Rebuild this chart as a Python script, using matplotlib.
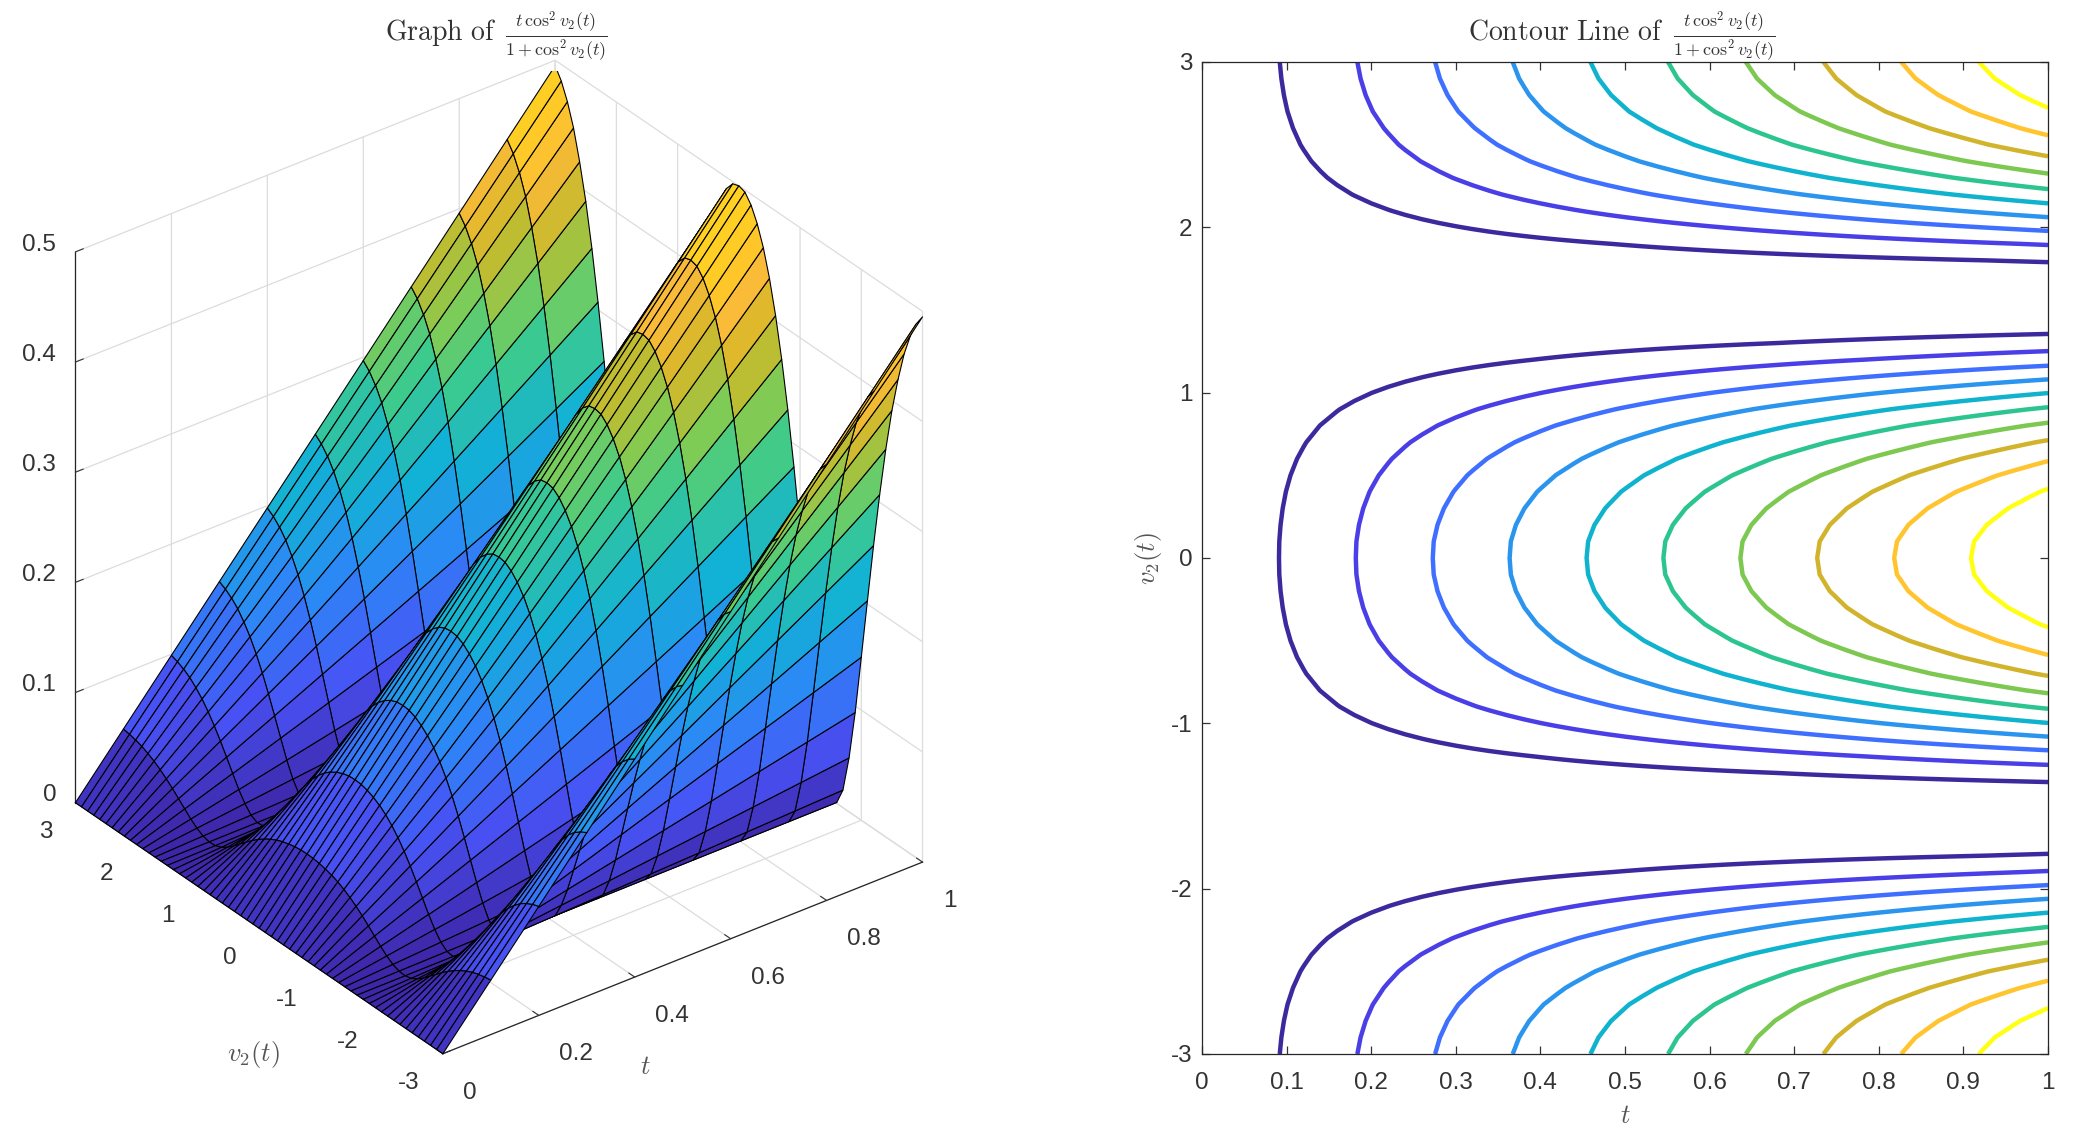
import numpy as np
import matplotlib
matplotlib.use('Agg')
import matplotlib.pyplot as plt
from matplotlib.colors import LinearSegmentedColormap

plt.rcParams['font.family'] = ['Liberation Sans', 'DejaVu Sans']
plt.rcParams['mathtext.fontset'] = 'cm'
plt.rcParams['axes.unicode_minus'] = False

# mesh lines seen on the surface
t_lines = [0.0, 0.1, 0.2, 0.3, 0.4, 0.5, 0.6, 0.7, 0.8, 0.9, 1.0]
v_half = [0.0, 0.1, 0.2, 0.3, 0.4, 0.5, 0.6, 0.7, 0.8, 0.9, 1.0, 1.1, 1.2, 1.3, 1.4, 1.5,
          1.6, 1.7, 1.8, 1.9, 2.0, 2.1, 2.2, 2.3, 2.4, 2.5, 2.6, 2.7, 2.8, 2.9, 3.0]
# height along the t=1 edge, v=0 to v=3 (the surface is mirrored about v=0)
edge_half = [0.500, 0.498, 0.490, 0.477, 0.459, 0.435, 0.405, 0.369, 0.327, 0.279, 0.226,
             0.171, 0.116, 0.067, 0.028, 0.005, 0.001, 0.016, 0.049, 0.094, 0.148, 0.203,
             0.257, 0.307, 0.352, 0.391, 0.423, 0.450, 0.470, 0.485, 0.495]
contour_levels = [0.0455, 0.0909, 0.1364, 0.1818, 0.2273, 0.2727, 0.3182, 0.3636, 0.4091, 0.4545]
contour_colors = ['#3B2A9E', '#4A3FE6', '#3F6FFF', '#2A94EE', '#10B3CE',
                  '#2DC58F', '#7CC850', '#D2B42C', '#FFC42E', '#FFFF14']

t_ticks_3d = [0, 0.2, 0.4, 0.6, 0.8, 1]
t_labels_3d = ['0', '0.2', '0.4', '0.6', '0.8', '1']
v_ticks = [-3, -2, -1, 0, 1, 2, 3]
v_labels = ['-3', '-2', '-1', '0', '1', '2', '3']
z_ticks = [0, 0.1, 0.2, 0.3, 0.4, 0.5]
z_labels = ['0', '0.1', '0.2', '0.3', '0.4', '0.5']
t_ticks_2d = [0, 0.1, 0.2, 0.3, 0.4, 0.5, 0.6, 0.7, 0.8, 0.9, 1]
t_labels_2d = ['0', '0.1', '0.2', '0.3', '0.4', '0.5', '0.6', '0.7', '0.8', '0.9', '1']

parula = LinearSegmentedColormap.from_list('parula', [
    (0.0, '#3E26A8'), (0.143, '#4852F4'), (0.286, '#2D87F7'), (0.429, '#12B1D6'),
    (0.57, '#3DCB8C'), (0.66, '#7FCC55'), (0.735, '#BABD33'), (0.80, '#E0B82C'),
    (0.85, '#FABB39'), (0.89, '#FFC629'), (0.93, '#FFCE24'), (1.0, '#FFD81C')])

text_col = '#333333'
W, H = 2073, 1140
frac = r'$\frac{t\,\cos^2 v_2(t)}{1+\cos^2 v_2(t)}$'

t = np.array(t_lines)
v = np.concatenate([-np.array(v_half[:0:-1]), v_half])
edge = np.concatenate([edge_half[:0:-1], edge_half])
# every t line is the t=1 edge scaled down, the ruled lines run straight to t=0
Z = np.outer(edge, t)
T, V = np.meshgrid(t, v)

fig = plt.figure(figsize=(W / 100, H / 100), dpi=100)

# left: surface
ax = fig.add_axes([-14.5 / W, 69.5 / H, 1000 / W, 1000 / H], projection='3d', proj_type='ortho')
ax.view_init(elev=31.5, azim=-127.4)
ax.set_box_aspect((1.117, 1.119, 1.195), zoom=1.04)
ax.plot_surface(T, V, Z, rstride=1, cstride=1, cmap=parula, vmin=0, vmax=0.5,
                edgecolor='black', linewidth=0.8, shade=False)
ax.set_xlim(0, 1, view_margin=0)
ax.set_ylim(-3, 3, view_margin=0)
ax.set_zlim(0, 0.5, view_margin=0)
ax.set_xticks(t_ticks_3d, t_labels_3d)
ax.set_yticks(v_ticks, v_labels)
ax.set_zticks(z_ticks, z_labels)
for axis in (ax.xaxis, ax.yaxis, ax.zaxis):
    axis.set_pane_color((1, 1, 1, 0))
    axis.pane.set_edgecolor((1, 1, 1, 0))
    axis.line.set_color('#262626')
    axis.line.set_linewidth(0.9)
    axis._axinfo['grid'].update(color='#dcdcdc', linewidth=0.9)
    axis._axinfo['tick'].update(inward_factor=0.0, outward_factor=0.2)
ax.tick_params(axis='both', labelsize=17.5, colors=text_col, width=0.9, pad=6)
ax.tick_params(axis='x', pad=13)
ax.tick_params(axis='y', pad=10)
ax.tick_params(axis='z', pad=0.5)
ax.zaxis.set_ticks_position('upper')

# alignment of the tick labels, as the 3d axes keep overwriting their transforms
for tick in ax.xaxis.get_major_ticks():
    tick.label1.set_ha('left')
    tick.label1.set_va('baseline')
for tick in ax.yaxis.get_major_ticks():
    tick.label1.set_ha('right')
    tick.label1.set_va('baseline')
for tick in ax.zaxis.get_major_ticks():
    tick.label1.set_ha('right')
    tick.label1.set_va('baseline')

fig.text(645 / W, 1 - 1067 / H, '$t$', fontsize=19, color='#555555', ha='center', va='center')
fig.text(254 / W, 1 - 1054 / H, '$v_2(t)$', fontsize=19, color='#555555', ha='center', va='center')

fig.text(496 / W, 1 - 32 / H, r'$\mathrm{Graph\ of}$', fontsize=20,
         ha='right', va='center', color=text_col)
fig.text(505 / W, 1 - 36 / H, frac, fontsize=18.5, ha='left', va='center', color=text_col)

# right: contour lines
ax2 = fig.add_axes([1202 / W, 1 - 1054 / H, 846 / W, 992 / H])
t_fine = np.arange(0, 1.001, 0.02)
ax2.contour(t_fine, v, np.outer(edge, t_fine), levels=contour_levels, colors=contour_colors,
            linewidths=3.2)
ax2.set_xlim(0, 1)
ax2.set_ylim(-3, 3)
ax2.set_xticks(t_ticks_2d, t_labels_2d)
ax2.set_yticks(v_ticks, v_labels)
ax2.tick_params(direction='in', top=True, right=True, length=6, width=0.9,
                labelsize=17.5, colors=text_col)
ax2.tick_params(axis='x', pad=13)
ax2.tick_params(axis='y', pad=7)
for spine in ax2.spines.values():
    spine.set_color('#262626')
    spine.set_linewidth(0.9)
ax2.set_xlabel('$t$', fontsize=19, color='#555555', labelpad=7)
ax2.set_ylabel('$v_2(t)$', fontsize=19, color='#555555', labelpad=5)

fig.text(1663 / W, 1 - 32 / H, r'$\mathrm{Contour\ Line\ of}$', fontsize=20,
         ha='right', va='center', color=text_col)
fig.text(1673 / W, 1 - 36 / H, frac, fontsize=18.5, ha='left', va='center', color=text_col)

fig.savefig('out.png', dpi=100)
